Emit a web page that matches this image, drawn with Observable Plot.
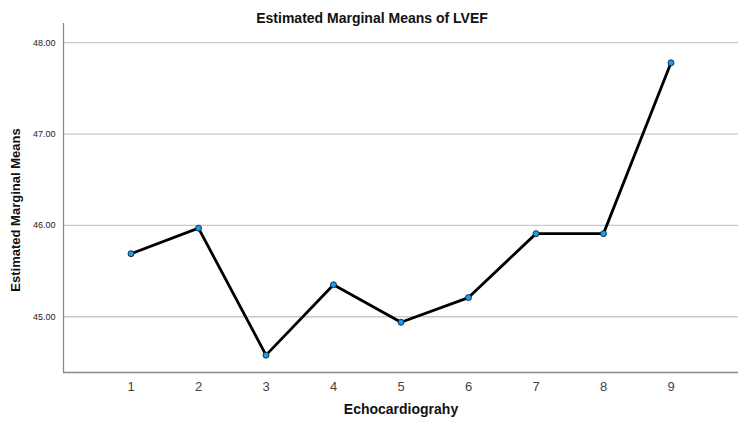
<!DOCTYPE html>
<html>
<head>
<meta charset="utf-8">
<script src="https://cdn.jsdelivr.net/npm/d3@7"></script>
<script src="https://cdn.jsdelivr.net/npm/@observablehq/plot@0.6"></script>
<style>
  html, body { margin: 0; padding: 0; background: #fff; }
  svg { font-family: "Liberation Sans", Arial, sans-serif; }
</style>
</head>
<body>
<div id="chart"></div>
<script>
const echo = [1, 2, 3, 4, 5, 6, 7, 8, 9];
const means = [45.69, 45.97, 44.58, 45.35, 44.94, 45.21, 45.91, 45.91, 47.78];
const yTicks = [45, 46, 47, 48];
const xTicks = [1, 2, 3, 4, 5, 6, 7, 8, 9];
const title = "Estimated Marginal Means of LVEF";
const xLabel = "Echocardiograhy";
const yLabel = "Estimated Marginal Means";

const data = echo.map((e, i) => ({ echo: e, mean: means[i] }));

const chart = Plot.plot({
  width: 744,
  height: 427,
  marginTop: 23,
  marginBottom: 55,
  marginLeft: 63,
  marginRight: 6,
  style: { fontFamily: "'Liberation Sans', Arial, sans-serif", background: "#fff" },
  x: { domain: [0, 10] },
  y: { domain: [44.39, 48.21] },
  marks: [
    Plot.gridY(yTicks, { stroke: "#c8c8c8", strokeOpacity: 1, strokeWidth: 1.3 }),
    Plot.axisY(yTicks, {
      tickSize: 0, tickPadding: 8, tickFormat: d3.format(".2f"),
      fontSize: 9, fill: "#222", label: null
    }),
    Plot.axisX(xTicks, {
      tickSize: 0, tickPadding: 9, fontSize: 13, fill: "#444",
      label: null
    }),
    Plot.ruleX([0], { stroke: "#8a8a8a", strokeWidth: 1.3 }),
    Plot.ruleY([44.39], { stroke: "#8a8a8a", strokeWidth: 1.3 }),
    Plot.line(data, { x: "echo", y: "mean", stroke: "#000", strokeWidth: 2.8 }),
    Plot.dot(data, { x: "echo", y: "mean", r: 3, fill: "#1a9af0", stroke: "#123", strokeWidth: 0.9 }),
    Plot.text([title], { frameAnchor: "top", dy: -10, dx: -29, fontSize: 14, fontWeight: "bold", fill: "#111" }),
    Plot.text([xLabel], { frameAnchor: "bottom", dy: 41, fontSize: 14, fontWeight: "bold", fill: "#111" }),
    Plot.text([yLabel], { frameAnchor: "left", textAnchor: "middle", rotate: -90, dx: -48, dy: 12, fontSize: 13, fontWeight: "bold", fill: "#111" })
  ]
});

document.getElementById("chart").appendChild(chart);
</script>
</body>
</html>
